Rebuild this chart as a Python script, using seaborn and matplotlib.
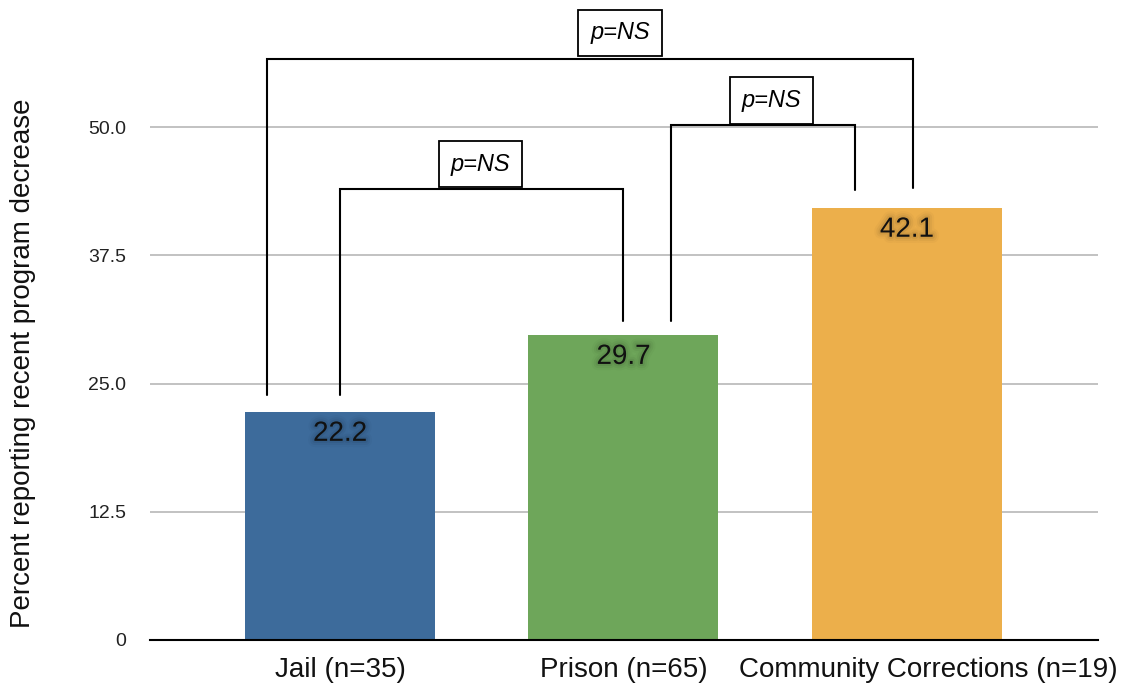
import matplotlib
matplotlib.use("Agg")
import matplotlib.pyplot as plt
import seaborn as sns
import pandas as pd
from matplotlib import patheffects as pe
from matplotlib.transforms import ScaledTranslation

# Share of respondents reporting a recent program decrease, by setting
categories = ["Jail (n=35)", "Prison (n=65)", "Community Corrections (n=19)"]
percent_decrease = [22.2, 29.7, 42.1]
bar_colors = ["#3D6B9B", "#6EA65A", "#ECAF4B"]
y_ticks = [0, 12.5, 25.0, 37.5, 50.0]
y_tick_labels = ["0", "12.5", "25.0", "37.5", "50.0"]
comparison_label = "p=NS"

sns.set_style("white")
plt.rcParams["font.family"] = ["Liberation Sans", "DejaVu Sans"]

df = pd.DataFrame({"setting": categories, "pct": percent_decrease})

fig = plt.figure(figsize=(11.31, 6.93), dpi=100)
ax = fig.add_axes([150 / 1131, 53 / 693, 948 / 1131, 640 / 693])

sns.barplot(data=df, x="setting", y="pct", hue="setting", palette=bar_colors,
            width=0.67, saturation=1, legend=False, ax=ax, linewidth=0)

ax.set_xlim(-0.67, 2.674)
ax.set_ylim(0, 62.4)
ax.set_yticks(y_ticks)
ax.set_yticklabels(y_tick_labels)
ax.yaxis.grid(True, color="#b8b8b8", linewidth=1.2)
ax.xaxis.grid(False)
ax.set_axisbelow(True)

for side in ("left", "top", "right"):
    ax.spines[side].set_visible(False)
ax.spines["bottom"].set_color("black")
ax.spines["bottom"].set_linewidth(1.5)
ax.spines["bottom"].set_zorder(5)

ax.tick_params(axis="y", length=0, pad=17, labelsize=14, labelcolor="#222222")
ax.tick_params(axis="x", length=0, pad=12, labelsize=20, labelcolor="#111111")
ax.set_xlabel("")
ax.set_ylabel("Percent reporting recent program decrease", fontsize=20,
              color="#111111")
ax.yaxis.set_label_coords(-0.12, 0.432)

# nudge the long last category label to the right
last = ax.get_xticklabels()[-1]
last.set_transform(last.get_transform() + ScaledTranslation(0.21, 0, fig.dpi_scale_trans))

# value labels inside the bars with a soft dark glow
glow = [pe.Stroke(linewidth=9, foreground="black", alpha=0.025),
        pe.Stroke(linewidth=6, foreground="black", alpha=0.04),
        pe.Stroke(linewidth=3, foreground="black", alpha=0.06),
        pe.Normal()]
for i, v in enumerate(percent_decrease):
    ax.annotate(f"{v:.1f}", (i, v), xytext=(0, -15.5), textcoords="offset points",
                ha="center", va="center", fontsize=20, color="#111111",
                path_effects=glow)

# significance brackets: (x_left, x_right, bar height, left end, right end, box x, box y)
brackets = [
    (0.0, 1.0, 44.0, 23.9, 31.1, 0.496, 46.4),
    (1.167, 1.817, 50.2, 31.1, 43.9, 1.522, 52.6),
    (-0.257, 2.02, 56.6, 23.9, 44.05, 0.988, 59.2),
]
for xl, xr, h, yl, yr, bx, by in brackets:
    ax.plot([xl, xl, xr, xr], [yl, h, h, yr], color="black", linewidth=1.5,
            solid_joinstyle="miter", clip_on=False, zorder=6)
    ax.text(bx, by, comparison_label, ha="center", va="center", fontsize=17,
            style="italic", color="black", zorder=7,
            bbox=dict(boxstyle="square,pad=0.5", fc="white", ec="black", lw=1.3))

fig.savefig("out.png", dpi=100)
